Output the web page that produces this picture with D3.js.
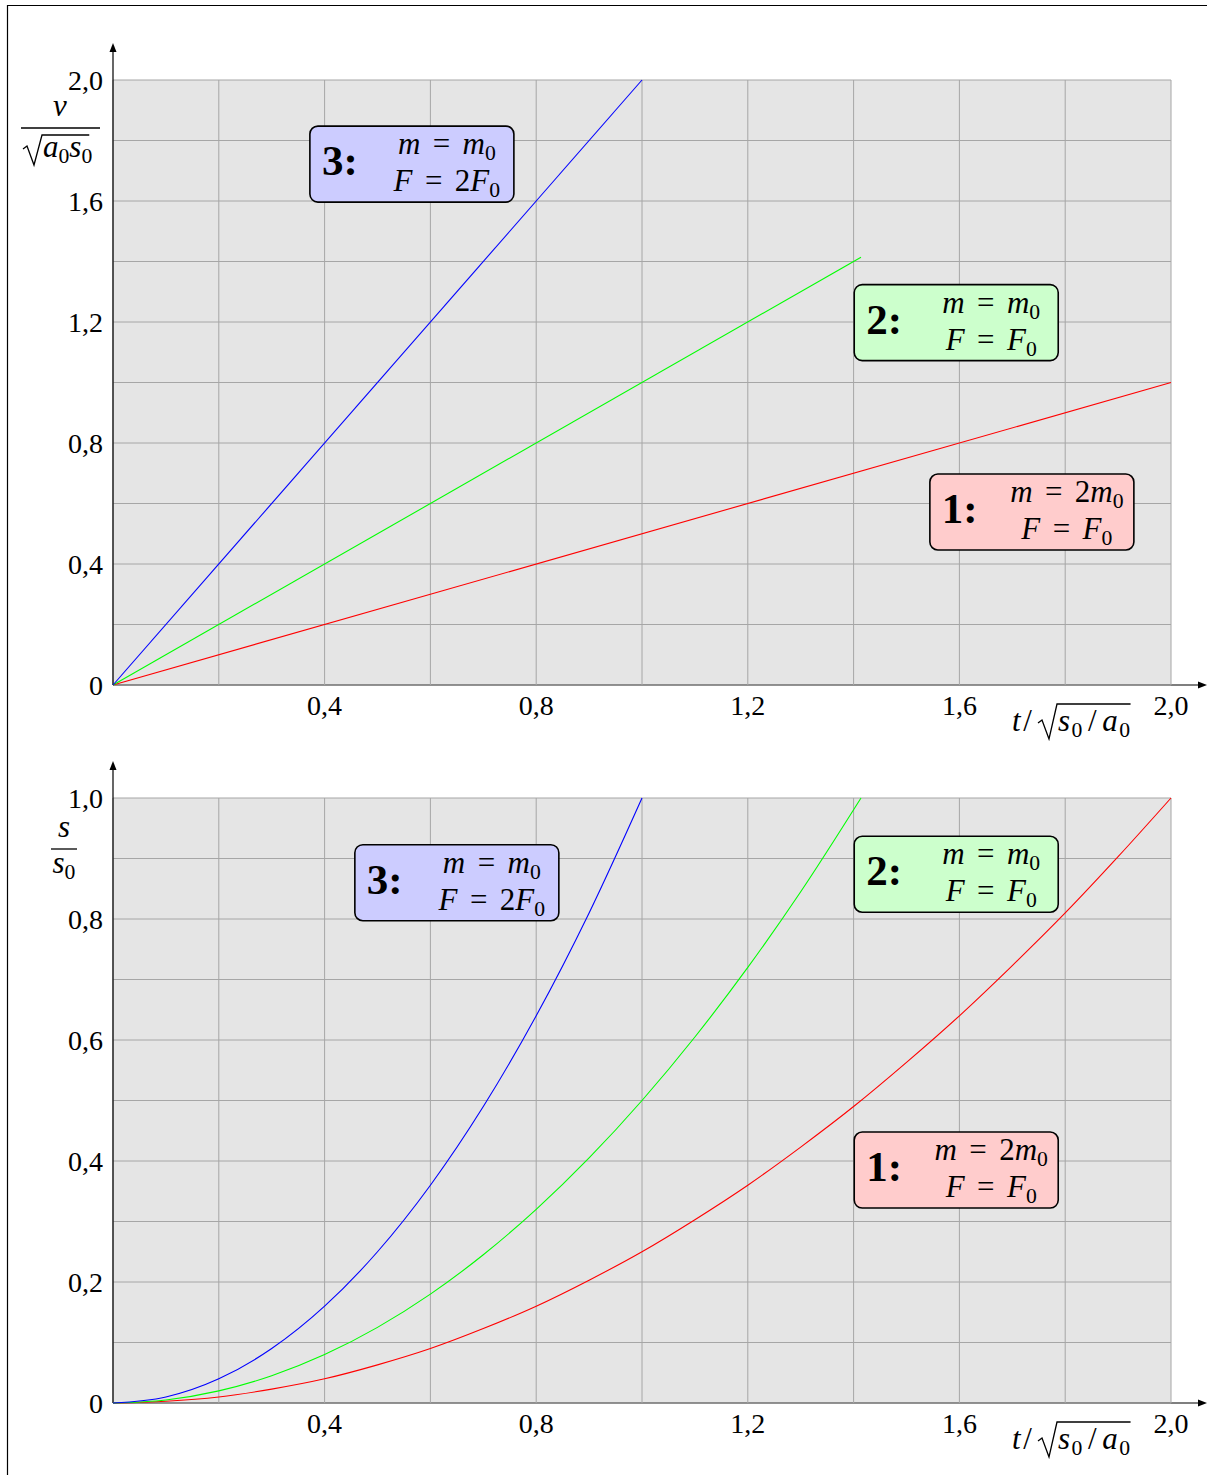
<!DOCTYPE html>
<html>
<head>
<meta charset="utf-8">
<script src="https://cdn.jsdelivr.net/npm/d3@7"></script>
<style>
  body { margin: 0; background: #fff; }
  svg { display: block; }
  text { font-family: "Liberation Serif", "DejaVu Serif", serif; white-space: pre; }
</style>
</head>
<body>
<div id="chart"></div>
<script>
// shared time axis t / sqrt(s0/a0)
var tGrid = [0, 0.2, 0.4, 0.6, 0.8, 1.0, 1.2, 1.4, 1.6, 1.8, 2.0];
var tLabels = [0.4, 0.8, 1.2, 1.6, 2.0];

// top panel: v / sqrt(a0 s0)
var vGrid = [0, 0.2, 0.4, 0.6, 0.8, 1.0, 1.2, 1.4, 1.6, 1.8, 2.0];
var vLabels = [0, 0.4, 0.8, 1.2, 1.6, 2.0];
var vT1 = [0, 2.0],   v1 = [0, 1.0];
var vT2 = [0, 1.414], v2 = [0, 1.414];
var vT3 = [0, 1.0],   v3 = [0, 2.0];

// bottom panel: s / s0
var sGrid = [0, 0.1, 0.2, 0.3, 0.4, 0.5, 0.6, 0.7, 0.8, 0.9, 1.0];
var sLabels = [0, 0.2, 0.4, 0.6, 0.8, 1.0];
var sT1 = [0, 0.1, 0.2, 0.3, 0.4, 0.5, 0.6, 0.7, 0.8, 0.9, 1.0, 1.1, 1.2, 1.3, 1.4, 1.5, 1.6, 1.7, 1.8, 1.9, 2.0];
var s1  = [0, 0.003, 0.01, 0.023, 0.04, 0.063, 0.09, 0.123, 0.16, 0.203, 0.25, 0.303, 0.36, 0.423, 0.49, 0.563, 0.64, 0.723, 0.81, 0.903, 1.0];
var sT2 = [0, 0.1, 0.2, 0.3, 0.4, 0.5, 0.6, 0.7, 0.8, 0.9, 1.0, 1.1, 1.2, 1.3, 1.414];
var s2  = [0, 0.005, 0.02, 0.045, 0.08, 0.125, 0.18, 0.245, 0.32, 0.405, 0.5, 0.605, 0.72, 0.845, 1.0];
var sT3 = [0, 0.1, 0.2, 0.3, 0.4, 0.5, 0.6, 0.7, 0.8, 0.9, 1.0];
var s3  = [0, 0.01, 0.04, 0.09, 0.16, 0.25, 0.36, 0.49, 0.64, 0.81, 1.0];

// case boxes
var boxNum   = ["1:", "2:", "3:"];
var boxMass  = ["m = 2m_0", "m = m_0", "m = m_0"];
var boxForce = ["F = F_0", "F = F_0", "F = 2F_0"];
var boxVT = [1.737, 1.594, 0.565], boxVV = [0.572, 1.198, 1.722];
var boxST = [1.594, 1.594, 0.650], boxSS = [0.385, 0.874, 0.860];

var lineColors = ["#ff0000", "#00ff00", "#0000ff"];
var boxColors = ["#ffcccc", "#ccffcc", "#ccccff"];

var W = 1207, H = 1475, FS = 28, FM = 31;

var svg = d3.select("#chart").append("svg")
  .attr("width", W).attr("height", H);

// page frame
svg.append("path")
  .attr("d", "M7.5," + H + "V5.5H" + W)
  .attr("fill", "none").attr("stroke", "#000").attr("stroke-width", 1.2);

var x = d3.scaleLinear().domain([0, 2]).range([113, 1171]);

function fmt(d) {
  return d === 0 ? "0" : d3.format(".1f")(d).replace(".", ",");
}

// tiny math markup: letters italic, "_x" subscript
function mathText(sel, str, size) {
  var shifted = false;
  for (var i = 0; i < str.length; i++) {
    var c = str[i];
    if (c === "_") {
      i++;
      sel.append("tspan").attr("font-size", size * 0.7).attr("dy", size * 0.2)
        .text(str[i]);
      shifted = true;
      continue;
    }
    var ts = sel.append("tspan").attr("font-size", size);
    if (shifted) { ts.attr("dy", -size * 0.2); shifted = false; }
    if (/[a-zA-Z]/.test(c)) ts.attr("font-style", "italic");
    if (c === " ") ts.text("\u2009\u2009");
    else if (c === "/") ts.text("\u200a/\u200a");
    else ts.text(c);
  }
  return sel;
}

function radical(g, x0, base, top, width) {
  g.append("path")
    .attr("d", "M" + x0 + "," + (base - 8) + "l4,-3l7,19l8," + (top - base - 8) + "H" + (x0 + 19 + width))
    .attr("fill", "none").attr("stroke", "#000").attr("stroke-width", 1.3)
    .attr("stroke-linejoin", "miter");
}

function xAxisLabel(g, base) {
  var t = g.append("text").attr("x", 1012).attr("y", base);
  mathText(t, "t/", FM);
  var inner = g.append("text").attr("x", 1058).attr("y", base).attr("letter-spacing", 1.5);
  mathText(inner, "s_0/a_0", FM);
  var w = inner.node().getComputedTextLength();
  radical(g, 1038, base, base - 27, w);
}

function drawPanel(y, yGrid, yLabels, ts, vs, bt, bv) {
  var g = svg.append("g");
  var x0 = x(0), x1 = x(2), y0 = y.range()[0], y1 = y.range()[1];

  g.append("rect").attr("x", x0).attr("y", y1)
    .attr("width", x1 - x0).attr("height", y0 - y1).attr("fill", "#e5e5e5");

  // x axis with arrow (under the grid)
  g.append("line").attr("x1", x0).attr("x2", W - 6).attr("y1", y0).attr("y2", y0)
    .attr("stroke", "#000").attr("stroke-width", 1.2);
  g.append("path").attr("d", "M" + W + "," + y0 + "l-9,-3.5v7z").attr("fill", "#000");

  g.selectAll(".gx").data(tGrid).enter().append("line")
    .attr("x1", d => x(d)).attr("x2", d => x(d))
    .attr("y1", y0).attr("y2", y1)
    .attr("stroke", "#a6a6a6").attr("stroke-width", 1);
  g.selectAll(".gy").data(yGrid).enter().append("line")
    .attr("x1", x0).attr("x2", x1)
    .attr("y1", d => y(d)).attr("y2", d => y(d))
    .attr("stroke", "#a6a6a6").attr("stroke-width", 1);

  // y axis with arrow
  g.append("line").attr("x1", x0).attr("x2", x0).attr("y1", y0).attr("y2", y1 - 30)
    .attr("stroke", "#000").attr("stroke-width", 1.2);
  g.append("path").attr("d", "M" + x0 + "," + (y1 - 37) + "l-3.5,9h7z").attr("fill", "#000");

  g.selectAll(".ly").data(yLabels).enter().append("text")
    .attr("x", 103).attr("y", d => y(d) + 10)
    .attr("text-anchor", "end").attr("font-size", FS)
    .text(fmt);
  g.selectAll(".lx").data(tLabels).enter().append("text")
    .attr("x", d => x(d)).attr("y", y0 + 30)
    .attr("text-anchor", "middle").attr("font-size", FS)
    .text(fmt);

  // curves
  var line = d3.line().curve(d3.curveMonotoneX)
    .x(d => x(d[0])).y(d => y(d[1]));
  ts.forEach(function(tt, k) {
    g.append("path")
      .datum(tt.map((t, i) => [t, vs[k][i]]))
      .attr("fill", "none").attr("stroke", lineColors[k]).attr("stroke-width", 1.1)
      .attr("d", line);
  });

  // boxes
  boxNum.forEach(function(n, k) {
    var bx = x(bt[k]) - 102, by = y(bv[k]) - 38;
    var b = g.append("g").attr("transform", "translate(" + bx + "," + by + ")");
    b.append("rect").attr("width", 204).attr("height", 76).attr("rx", 8)
      .attr("fill", boxColors[k]).attr("stroke", "#000").attr("stroke-width", 1.6);
    b.append("text").attr("x", 12).attr("y", 49)
      .attr("font-size", 43).attr("font-weight", "bold").text(n);
    mathText(b.append("text").attr("x", 137).attr("y", 28).attr("text-anchor", "middle"), boxMass[k], FM);
    mathText(b.append("text").attr("x", 137).attr("y", 65).attr("text-anchor", "middle"), boxForce[k], FM);
  });

  xAxisLabel(g, y0 + 46);
  return g;
}

var yTop = d3.scaleLinear().domain([0, 2]).range([685, 80]);
var yBot = d3.scaleLinear().domain([0, 1]).range([1403, 798]);

var gTop = drawPanel(yTop, vGrid, vLabels, [vT1, vT2, vT3], [v1, v2, v3], boxVT, boxVV);
var gBot = drawPanel(yBot, sGrid, sLabels, [sT1, sT2, sT3], [s1, s2, s3], boxST, boxSS);

// y label top: v / sqrt(a0 s0)
mathText(gTop.append("text").attr("x", 60).attr("y", 116).attr("text-anchor", "middle"), "v", FM);
gTop.append("line").attr("x1", 21).attr("x2", 100).attr("y1", 128).attr("y2", 128)
  .attr("stroke", "#000").attr("stroke-width", 1.3);
var den = gTop.append("text").attr("x", 43).attr("y", 157);
mathText(den, "a_0s_0", FM);
radical(gTop, 23, 157, 135, den.node().getComputedTextLength() - 2);

// y label bottom: s / s0
mathText(gBot.append("text").attr("x", 64).attr("y", 837).attr("text-anchor", "middle"), "s", FM);
gBot.append("line").attr("x1", 51).attr("x2", 77).attr("y1", 849).attr("y2", 849)
  .attr("stroke", "#000").attr("stroke-width", 1.3);
mathText(gBot.append("text").attr("x", 64).attr("y", 873).attr("text-anchor", "middle"), "s_0", FM);
</script>
</body>
</html>
